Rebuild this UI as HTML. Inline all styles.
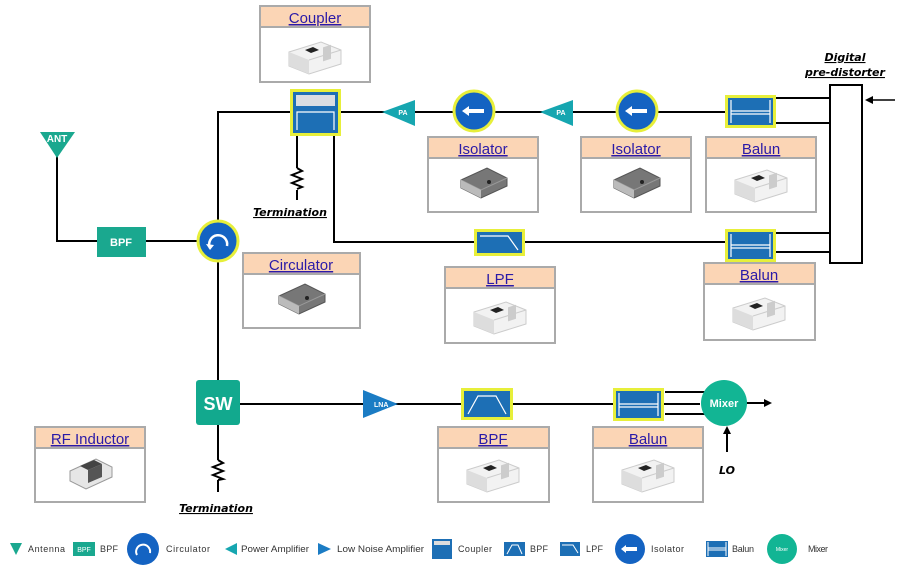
<!DOCTYPE html>
<html><head><meta charset="utf-8"><style>
html,body{margin:0;padding:0;background:#fff;}
svg{display:block;font-family:"Liberation Sans",sans-serif;}
.lbl{font-family:"DejaVu Sans","Liberation Sans",sans-serif;font-weight:bold;font-style:italic;font-size:11px;text-decoration:underline;}
.lnk{fill:#2a1aa8;text-decoration:underline;font-size:15px;}
.lg{font-size:9px;fill:#333;}
</style></head><body>
<svg width="900" height="569" viewBox="0 0 900 569" xmlns="http://www.w3.org/2000/svg">
<defs>
<g id="chip">
 <path d="M-26,-4 L6,-14 L26,-6 L26,8 L-6,18 L-26,10Z" fill="#f2f2f2" stroke="#ccc"/>
 <path d="M-26,-4 L-6,4 L-6,18 L-26,10Z" fill="#ddd"/>
 <path d="M-6,4 L26,-6" stroke="#ccc"/>
 <path d="M-10,-6 L-2,-9 L4,-6 L-4,-3Z" fill="#222"/>
 <rect x="8" y="-6" width="8" height="14" fill="#ccc" transform="skewY(-18)"/>
</g>
<g id="metal">
 <path d="M-22,-2 L4,-14 L24,-4 L24,4 L-2,16 L-22,6Z" fill="#777" stroke="#555"/>
 <path d="M-22,-2 L-2,8 L24,-4" fill="none" stroke="#999"/>
 <path d="M-22,-2 L-2,8 L-2,16 L-22,6Z" fill="#bbb"/>
 <circle cx="6" cy="0" r="2" fill="#222"/>
</g>
</defs>
<rect width="900" height="569" fill="#fff"/>
<g stroke="#000" stroke-width="2" fill="none">
 <path d="M218,404 L218,112 L725,112"/>
 <path d="M57,150 L57,241 L218,241"/>
 <path d="M297,130 L297,168 M297,190 L297,200"/>
 <path d="M297,168 l5,3 l-10,4 l10,4 l-10,4 l10,4 l-5,2"/>
 <path d="M334,130 L334,242 L725,242"/>
 <path d="M776,98 L830,98 M776,123 L830,123 M776,233 L830,233 M776,252 L830,252"/>
 <path d="M240,404 L700,404"/>
 <path d="M665,392 L710,392 M665,414 L710,414"/>
 <path d="M745,403 L765,403"/>
 <path d="M727,452 L727,432"/>
 <path d="M218,425 L218,460 M218,480 L218,492"/>
 <path d="M218,460 l5,3 l-10,4 l10,4 l-10,4 l10,4 l-5,1"/>
 <path d="M895,100 L872,100" stroke-width="1.5"/>
</g>
<path d="M865,100 l8,-4 l0,8z" fill="#000"/>
<path d="M772,403 l-8,-4 l0,8z" fill="#000"/>
<path d="M727,426 l-4,8 l8,0z" fill="#000"/>
<rect x="830" y="85" width="32" height="178" fill="#fff" stroke="#000" stroke-width="2"/>
<text x="845" y="61" class="lbl" text-anchor="middle">Digital</text>
<text x="845" y="76" class="lbl" text-anchor="middle">pre-distorter</text>
<path d="M40,132 L75,132 L57,158Z" fill="#1aa88f"/>
<text x="57" y="142" text-anchor="middle" fill="#fff" font-size="10" font-weight="bold">ANT</text>
<rect x="97" y="227" width="49" height="30" fill="#1aa88f"/>
<text x="121" y="246" text-anchor="middle" fill="#fff" font-size="11" font-weight="bold">BPF</text>
<circle cx="218" cy="241" r="20" fill="#1463c2" stroke="#e7ef3a" stroke-width="3"/>
<path d="M210,248 A9,9 0 1 1 227,246" fill="none" stroke="#fff" stroke-width="2.5"/>
<path d="M206,244 l4,6 l4,-5z" fill="#fff"/>
<rect x="290" y="89" width="51" height="47" fill="#e7ef3a"/>
<rect x="293" y="92" width="45" height="41" fill="#1d6fb5"/>
<rect x="296" y="95" width="39" height="11" fill="#d9dde2"/>
<path d="M297,130 L297,112 L334,112 L334,130" fill="none" stroke="#fff" stroke-width="1.2"/>
<path d="M382,112 L415,100 L415,126Z" fill="#16a6b0"/>
<text x="403" y="115" fill="#fff" font-size="7" font-weight="bold" text-anchor="middle">PA</text>
<path d="M540,112 L573,100 L573,126Z" fill="#16a6b0"/>
<text x="561" y="115" fill="#fff" font-size="7" font-weight="bold" text-anchor="middle">PA</text>
<circle cx="474" cy="111" r="20" fill="#1463c2" stroke="#e7ef3a" stroke-width="3"/>
<path d="M462,111 l7,-5 l0,3 l15,0 l0,4 l-15,0 l0,3z" fill="#fff"/>
<circle cx="637" cy="111" r="20" fill="#1463c2" stroke="#e7ef3a" stroke-width="3"/>
<path d="M625,111 l7,-5 l0,3 l15,0 l0,4 l-15,0 l0,3z" fill="#fff"/>
<g id="bal">
<rect x="725" y="95" width="51" height="33" fill="#e7ef3a"/>
<rect x="728" y="98" width="45" height="27" fill="#1d6fb5"/>
<path d="M731,100 L731,123 M770,100 L770,123 M731,111 L770,111 M731,114 L770,114" stroke="#fff" stroke-width="1.2"/>
</g>
<use href="#bal" y="134"/>
<use href="#bal" x="-112" y="293"/>
<rect x="474" y="229" width="51" height="27" fill="#e7ef3a"/>
<rect x="477" y="232" width="45" height="21" fill="#1d6fb5"/>
<path d="M480,236 L508,236 L518,250" fill="none" stroke="#fff" stroke-width="1.2"/>
<rect x="461" y="388" width="52" height="32" fill="#e7ef3a"/>
<rect x="464" y="391" width="46" height="26" fill="#1d6fb5"/>
<path d="M468,414 L478,396 L496,396 L506,414" fill="none" stroke="#fff" stroke-width="1.2"/>
<path d="M363,390 L398,404 L363,418Z" fill="#1b7cc4"/>
<text x="374" y="407" fill="#fff" font-size="7" font-weight="bold">LNA</text>
<rect x="196" y="380" width="44" height="45" rx="3" fill="#12a98e"/>
<text x="218" y="410" text-anchor="middle" fill="#fff" font-size="18" font-weight="bold">SW</text>
<circle cx="724" cy="403" r="23" fill="#12b594"/>
<text x="724" y="407" text-anchor="middle" fill="#fff" font-size="11" font-weight="bold">Mixer</text>
<text x="727" y="474" text-anchor="middle" font-size="11" font-weight="bold" font-style="italic" font-family="DejaVu Sans">LO</text>
<text x="290" y="216" class="lbl" text-anchor="middle">Termination</text>
<text x="216" y="512" class="lbl" text-anchor="middle">Termination</text>
<g stroke="#aaa" stroke-width="2">
<rect x="260" y="6" width="110" height="76" fill="#fff"/><rect x="260" y="6" width="110" height="21" fill="#fbd5b5"/>
<rect x="428" y="137" width="110" height="75" fill="#fff"/><rect x="428" y="137" width="110" height="21" fill="#fbd5b5"/>
<rect x="581" y="137" width="110" height="75" fill="#fff"/><rect x="581" y="137" width="110" height="21" fill="#fbd5b5"/>
<rect x="706" y="137" width="110" height="75" fill="#fff"/><rect x="706" y="137" width="110" height="21" fill="#fbd5b5"/>
<rect x="243" y="253" width="117" height="75" fill="#fff"/><rect x="243" y="253" width="117" height="21" fill="#fbd5b5"/>
<rect x="445" y="267" width="110" height="76" fill="#fff"/><rect x="445" y="267" width="110" height="21" fill="#fbd5b5"/>
<rect x="704" y="263" width="111" height="77" fill="#fff"/><rect x="704" y="263" width="111" height="21" fill="#fbd5b5"/>
<rect x="438" y="427" width="111" height="75" fill="#fff"/><rect x="438" y="427" width="111" height="21" fill="#fbd5b5"/>
<rect x="593" y="427" width="110" height="75" fill="#fff"/><rect x="593" y="427" width="110" height="21" fill="#fbd5b5"/>
<rect x="35" y="427" width="110" height="75" fill="#fff"/><rect x="35" y="427" width="110" height="21" fill="#fbd5b5"/>
</g>
<g class="lnk" text-anchor="middle">
<text x="315" y="23" class="lnk">Coupler</text>
<text x="483" y="154" class="lnk">Isolator</text>
<text x="636" y="154" class="lnk">Isolator</text>
<text x="761" y="154" class="lnk">Balun</text>
<text x="301" y="270" class="lnk">Circulator</text>
<text x="500" y="284" class="lnk">LPF</text>
<text x="759" y="280" class="lnk">Balun</text>
<text x="493" y="444" class="lnk">BPF</text>
<text x="648" y="444" class="lnk">Balun</text>
<text x="90" y="444" class="lnk">RF Inductor</text>
</g>
<use href="#chip" x="315" y="56"/>
<use href="#metal" x="483" y="182"/>
<use href="#metal" x="636" y="182"/>
<use href="#chip" x="761" y="184"/>
<use href="#metal" x="301" y="298"/>
<use href="#chip" x="500" y="316"/>
<use href="#chip" x="759" y="312"/>
<use href="#chip" x="493" y="474"/>
<use href="#chip" x="648" y="474"/>
<g transform="translate(90,473)">
 <path d="M-20,-2 L6,-14 L22,-6 L22,4 L-4,16 L-20,8Z" fill="#e6e6e6" stroke="#999"/>
 <path d="M-10,-7 L4,-13 L12,-9 L-2,-3Z" fill="#444"/>
 <path d="M-2,-3 L12,-9 L12,4 L-2,10Z" fill="#555"/>
</g>
<!-- legend -->
<path d="M10,543 L22,543 L16,555Z" fill="#1aa88f"/><text x="28" y="552" class="lg" textLength="37">Antenna</text>
<rect x="73" y="542" width="22" height="14" fill="#1aa88f"/><text x="84" y="552" fill="#fff" font-size="7" text-anchor="middle">BPF</text><text x="100" y="552" class="lg" textLength="18">BPF</text>
<circle cx="143" cy="549" r="16" fill="#1463c2"/><path d="M137,555 A7,7 0 1 1 150,553" fill="none" stroke="#fff" stroke-width="2"/><text x="166" y="552" class="lg" textLength="44">Circulator</text>
<path d="M225,549 L237,543 L237,555Z" fill="#16a6b0"/><text x="241" y="552" class="lg" textLength="68" lengthAdjust="spacingAndGlyphs">Power Amplifier</text>
<path d="M318,543 L331,549 L318,555Z" fill="#1b7cc4"/><text x="337" y="552" class="lg" textLength="87" lengthAdjust="spacingAndGlyphs">Low Noise Amplifier</text>
<rect x="432" y="539" width="20" height="20" fill="#1d6fb5"/><rect x="434" y="541" width="16" height="4" fill="#ddd"/><text x="458" y="552" class="lg" textLength="34">Coupler</text>
<rect x="504" y="542" width="21" height="14" fill="#1d6fb5"/><path d="M507,554 L512,545 L518,545 L522,554" stroke="#fff" fill="none"/><text x="530" y="552" class="lg" textLength="18">BPF</text>
<rect x="560" y="542" width="20" height="14" fill="#1d6fb5"/><path d="M562,545 L573,545 L578,553" stroke="#fff" fill="none"/><text x="586" y="552" class="lg" textLength="17">LPF</text>
<circle cx="630" cy="549" r="15" fill="#1463c2"/><path d="M621,549 l5,-4 l0,2 l11,0 l0,4 l-11,0 l0,2z" fill="#fff"/><text x="651" y="552" class="lg" textLength="33">Isolator</text>
<rect x="706" y="541" width="22" height="16" fill="#1d6fb5"/><path d="M708,542 L708,556 M726,542 L726,556 M708,548 L726,548 M708,550 L726,550" stroke="#fff"/><text x="732" y="552" class="lg" textLength="22">Balun</text>
<circle cx="782" cy="549" r="15" fill="#12b594"/><text x="782" y="551" fill="#fff" font-size="5" text-anchor="middle">Mixer</text><text x="808" y="552" class="lg" textLength="20">Mixer</text>
</svg>
</body></html>
